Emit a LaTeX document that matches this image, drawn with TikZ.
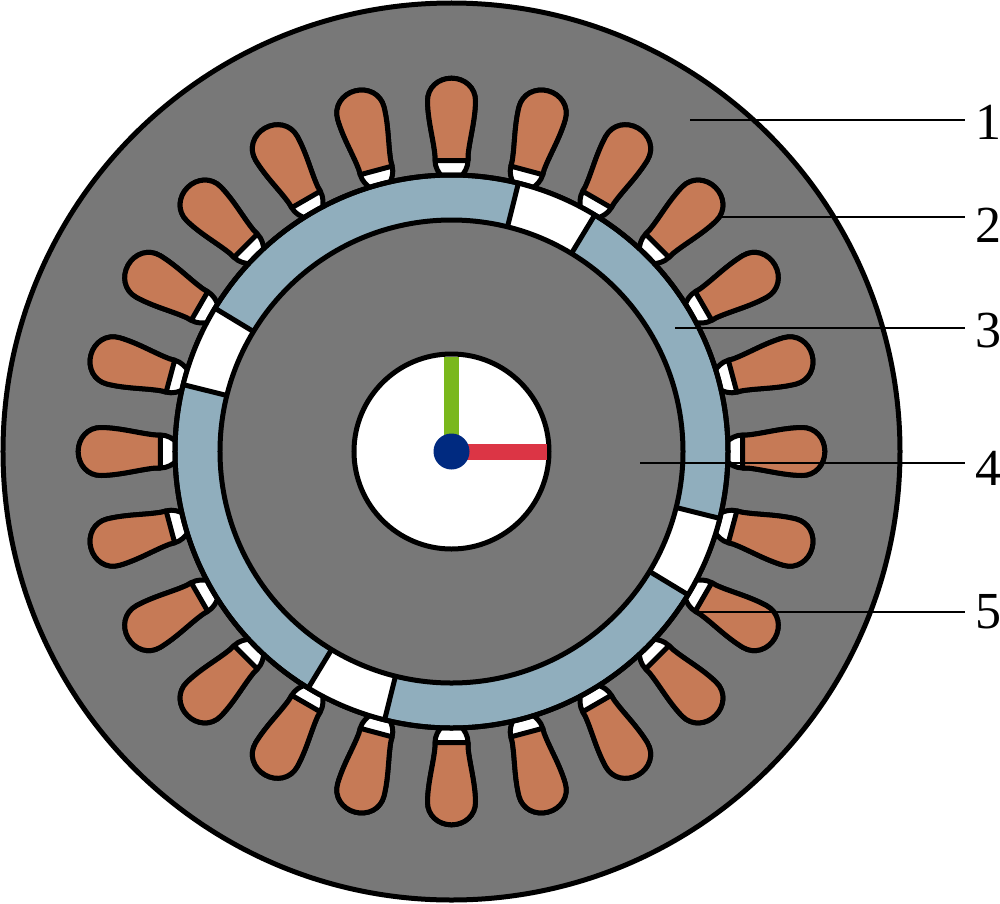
\documentclass[tikz,border=0pt]{standalone}
\usepackage{fontspec}
\setmainfont{Liberation Serif}
\definecolor{ironG}{HTML}{787878}
\definecolor{copperC}{HTML}{C67A56}
\definecolor{magB}{HTML}{90AEBD}
\definecolor{axG}{HTML}{7AB81C}
\definecolor{axR}{HTML}{DC3545}
\definecolor{hubN}{HTML}{002A80}
\tikzset{
  x=1pt,y=1pt,
  part/.style={draw=black,line width=5pt},
  leader/.style={draw=black,line width=2.7pt},
  numlabel/.style={inner sep=0pt,font=\fontsize{52}{52}\selectfont},
}
\newcommand{\slotbody}{(-16.5,291) -- (-16.5,296) .. controls (-18,312) and (-23.5,330) .. (-24,350)
      .. controls (-24.3,364) and (-13,373.3) .. (0,373.3)
      .. controls (13,373.3) and (24.3,364) .. (24,350)
      .. controls (23.5,330) and (18,312) .. (16.5,296)
      -- (16.5,291)}
\begin{document}
\begin{tikzpicture}
\useasboundingbox (-451.5,-451.5) rectangle (548.5,451.5);
\fill[white] (-451.5,-451.5) rectangle (548.5,451.5);
% stator
\draw[part,fill=ironG] (0,0) circle (448.5);
% slots
\foreach \a in {0,15,...,345}{
  \begin{scope}[rotate=\a]
    \draw[part,fill=white,line join=round]
      (-9,274) .. controls (-13,279) and (-16.5,284) .. \slotbody
      .. controls (16.5,284) and (13,279) .. (9,274) -- cycle;
    \fill[copperC] \slotbody -- cycle;
    \draw[part,line join=round] \slotbody -- cycle;
  \end{scope}
}
% magnet ring
\draw[part,fill=magB] (0,0) circle (276.5);
\foreach \a in {0,90,180,270}{
  \begin{scope}[rotate=\a]
    \fill[white] (58.8:232) -- (58.8:276.5) arc (58.8:76:276.5) -- (76:232) arc (76:58.8:232) -- cycle;
    \draw[part] (58.8:232) -- (58.8:276.5);
    \draw[part] (76:232) -- (76:276.5);
  \end{scope}
}
\draw[part] (0,0) circle (276.5);
% rotor
\draw[part,fill=ironG] (0,0) circle (231.5);
% shaft
\draw[part,fill=white] (0,0) circle (97.5);
\fill[axG] (-7.5,0) rectangle (7.5,95);
\fill[axR] (0,-8) rectangle (95,8);
\node[circle,fill=hubN,inner sep=0pt,minimum size=36pt] (hub) at (0,0) {};
% labels
\node[numlabel] (n1) at (536.5,329) {1};
\node[numlabel] (n2) at (536.5,226) {2};
\node[numlabel] (n3) at (536.5,121) {3};
\node[numlabel] (n4) at (536.5,-16.5) {4};
\node[numlabel] (n5) at (536.5,-160.5) {5};
\coordinate (p1) at (238.5,331.5);
\coordinate (p2) at (266.5,234.5);
\coordinate (p3) at (223.5,123.5);
\coordinate (p4) at (188.5,-11.5);
\coordinate (p5) at (243.5,-160.5);
\coordinate (e) at (513.5,0);
\foreach \i in {1,...,5}{
  \draw[leader] (p\i) -- (p\i -| e);
}
\end{tikzpicture}
\end{document}
